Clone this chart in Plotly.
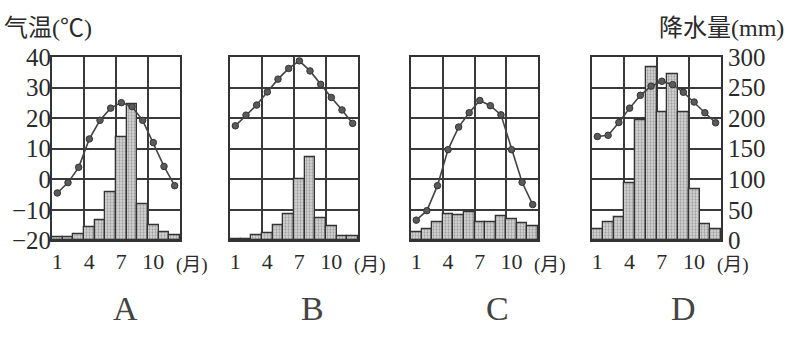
import plotly.graph_objects as go

months = list(range(1, 13))
panel_names = ["A", "B", "C", "D"]

temp_A = [-4.5, -1.1, 3.9, 13.2, 19.3, 23.3, 25.1, 23.8, 19.3, 12.0, 4.2, -2.1]
prec_A = [4.5, 4.5, 10, 21, 33, 79, 169, 223, 59, 25, 13.5, 8.5]

temp_B = [17.5, 21.0, 24.3, 28.6, 32.8, 36.3, 38.8, 35.5, 31.1, 26.8, 22.7, 18.3]
prec_B = [2, 2.5, 8.5, 11, 24.5, 42.5, 99.7, 136, 37, 23.5, 6, 7.5]

temp_C = [-13.4, -10.3, -2.1, 9.7, 17.1, 21.8, 25.8, 24.1, 21.1, 9.7, -1.0, -8.3]
prec_C = [13.5, 18.5, 30, 42.5, 41, 46, 29.5, 30, 40, 35, 28.5, 22.5]

temp_D = [14.0, 14.4, 18.6, 23.3, 27.5, 30.5, 32.1, 31.0, 28.5, 25.3, 21.8, 18.5]
prec_D = [18, 30, 38.6, 93.7, 197, 283.5, 210, 271.5, 210, 83.7, 26, 18.5]

temps = [temp_A, temp_B, temp_C, temp_D]
precs = [prec_A, prec_B, prec_C, prec_D]

month_ticks = [1, 4, 7, 10]
month_tick_text = ["1", "4", "7", "10"]
temp_ticks = [40, 30, 20, 10, 0, -10, -20]
temp_tick_text = ["40", "30", "20", "10", "0", "\u221210", "\u221220"]
prec_ticks = [300, 250, 200, 150, 100, 50, 0]

W, H = 785, 338
x_px = [(52, 180), (230, 358), (411, 538), (592, 721)]
y_px = (48, 247)
label_x_px = [125, 312, 497, 683]

ink = "#2a2a2a"
serif = "Liberation Serif, Noto Sans CJK SC"

fig = go.Figure()
layout = dict(
    width=W, height=H, margin=dict(l=0, r=0, t=0, b=0),
    paper_bgcolor="white", plot_bgcolor="white", showlegend=False,
    bargap=0, font=dict(family=serif, color=ink),
)
ydom = [(H - y_px[1]) / H, (H - y_px[0]) / H]

annotations = []
for i in range(4):
    xa = "x" if i == 0 else f"x{i+1}"
    yb = 2 * i + 1
    yt = 2 * i + 2
    ybn = "y" if yb == 1 else f"y{yb}"
    ytn = f"y{yt}"
    fig.add_trace(go.Bar(
        x=months, y=precs[i], xaxis=xa, yaxis=ybn,
        marker=dict(color="#d0d0d0",
                    pattern=dict(shape=".", fgcolor="#666666", bgcolor="#d8d8d8", size=3, solidity=0.45),
                    line=dict(color="#333333", width=1.3)),
    ))
    fig.add_trace(go.Scatter(
        x=months, y=temps[i], xaxis=xa, yaxis=ytn, mode="lines+markers",
        line=dict(color="#444444", width=1.6),
        marker=dict(size=6.5, color="#5a5a5a", line=dict(color="#333333", width=1)),
    ))
    xdom = [x_px[i][0] / W, x_px[i][1] / W]
    xkey = "xaxis" if i == 0 else f"xaxis{i+1}"
    layout[xkey] = dict(
        domain=xdom, range=[0.5, 12.5], anchor=ybn,
        tickmode="array", tickvals=month_ticks, ticktext=month_tick_text,
        showgrid=False, zeroline=False, ticks="",
        showline=True, mirror=True, linecolor="#333333", linewidth=2,
        tickfont=dict(family=serif, size=22, color=ink),
        minor=dict(tickmode="array", tickvals=[3.5, 6.5, 9.5], showgrid=True,
                   gridcolor="#3a3a3a", gridwidth=1.8, ticks=""),
        fixedrange=True,
    )
    ybkey = "yaxis" if yb == 1 else f"yaxis{yb}"
    layout[ybkey] = dict(
        domain=ydom, range=[0, 300], anchor=xa, side="right",
        tickmode="array", tickvals=prec_ticks, showticklabels=(i == 3),
        showgrid=True, gridcolor="#3a3a3a", gridwidth=1.8, zeroline=False, ticks="",
        showline=True, mirror=True, linecolor="#333333", linewidth=2,
        tickfont=dict(family=serif, size=25, color=ink),
        fixedrange=True,
    )
    layout[f"yaxis{yt}"] = dict(
        domain=ydom, range=[-20, 40], anchor=xa, overlaying=ybn, side="left",
        tickmode="array", tickvals=temp_ticks, showticklabels=(i == 0),
        ticktext=temp_tick_text,
        showgrid=False, zeroline=False, ticks="", showline=False,
        tickfont=dict(family=serif, size=25, color=ink),
        fixedrange=True,
    )
    annotations.append(dict(
        xref="paper", yref="paper", x=(x_px[i][1] - 6) / W, y=(H - 274) / H,
        text="(月)", showarrow=False, xanchor="left", yanchor="middle",
        font=dict(family=serif, size=19, color=ink),
    ))
    annotations.append(dict(
        xref="paper", yref="paper", x=label_x_px[i] / W, y=(H - 321) / H,
        text=panel_names[i], showarrow=False, xanchor="center", yanchor="middle",
        font=dict(family=serif, size=34, color="#444444"),
    ))

annotations.append(dict(
    xref="paper", yref="paper", x=2 / W, y=(H - 16) / H,
    text="气温(℃)", showarrow=False, xanchor="left", yanchor="middle",
    font=dict(family=serif, size=24, color=ink),
))
annotations.append(dict(
    xref="paper", yref="paper", x=786 / W, y=(H - 16) / H,
    text="降水量(mm)", showarrow=False, xanchor="right", yanchor="middle",
    font=dict(family=serif, size=24, color=ink),
))
layout["annotations"] = annotations
fig.update_layout(**layout)
fig.write_html("out.html")
